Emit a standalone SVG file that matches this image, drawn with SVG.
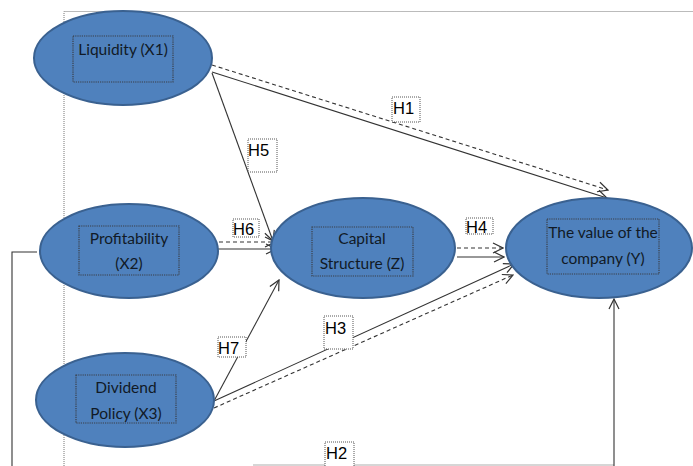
<svg xmlns="http://www.w3.org/2000/svg" width="693" height="466" viewBox="0 0 693 466">
<defs>
<style>
.node ellipse{fill:#4F81BD;stroke:#3A6190;stroke-width:2}
.tbox{fill:none;stroke:#3a3f48;stroke-width:1.2;stroke-dasharray:1.2,1}
.nt{font-family:Lato,"Liberation Sans",sans-serif;font-size:15.5px;fill:#111a26;text-anchor:middle}
.lb rect{fill:#fff;stroke:#555;stroke-width:1;stroke-dasharray:1,1}
.lb text{font-family:"Liberation Sans",Arial,sans-serif;font-size:16.5px;fill:#000}
.s{stroke:#333;stroke-width:1.1;fill:none}
.d{stroke:#333;stroke-width:1.1;fill:none;stroke-dasharray:4,3}
.frame{stroke:#777;stroke-width:1;fill:none;stroke-dasharray:1,1}
</style>
<marker id="arr" markerWidth="12" markerHeight="12" refX="11" refY="6" orient="auto" markerUnits="userSpaceOnUse">
<path d="M1,1 L11,6 L1,11" fill="none" stroke="#333" stroke-width="1.2"/>
</marker>
</defs>
<rect width="693" height="466" fill="#fff"/>
<path class="frame" d="M64,466 V11.5 H693"/>

<g id="connectors">
<!-- H1 -->
<line class="d" x1="212" y1="65" x2="608" y2="190" marker-end="url(#arr)"/>
<line class="s" x1="212" y1="72" x2="607" y2="198" marker-end="url(#arr)"/>
<!-- H5 -->
<line class="s" x1="212" y1="73" x2="273" y2="241" marker-end="url(#arr)"/>
<!-- H6 -->
<line class="d" x1="212" y1="242" x2="275" y2="242" marker-end="url(#arr)"/>
<line class="s" x1="213" y1="249" x2="276" y2="249" marker-end="url(#arr)"/>
<!-- H7 -->
<line class="s" x1="214" y1="401" x2="279" y2="280" marker-end="url(#arr)"/>
<!-- H3 -->
<line class="s" x1="214" y1="401" x2="514" y2="264" marker-end="url(#arr)"/>
<line class="d" x1="214" y1="408" x2="513" y2="275" marker-end="url(#arr)"/>
<!-- H4 -->
<line class="d" x1="457" y1="248" x2="503" y2="248" marker-end="url(#arr)"/>
<line class="s" x1="457" y1="257" x2="504" y2="257" marker-end="url(#arr)"/>
<!-- H2 -->
<path class="s" d="M37,252 H12 V466"/>
<line x1="253" y1="465" x2="614" y2="465" stroke="#c8c8c8" stroke-width="1.5"/>
<line class="s" x1="614" y1="466" x2="614" y2="299" marker-end="url(#arr)"/>
</g>

<g id="liquidity" class="node">
<ellipse cx="123" cy="58" rx="89" ry="47"/>
<rect class="tbox" x="73" y="36" width="100" height="46"/>
<text class="nt" x="123" y="55">Liquidity (X1)</text>
</g>
<g id="profitability" class="node">
<ellipse cx="129" cy="251" rx="89" ry="47"/>
<rect class="tbox" x="79" y="226" width="100" height="49"/>
<text class="nt" x="129" y="244">Profitability</text>
<text class="nt" x="129" y="269">(X2)</text>
</g>
<g id="dividend" class="node">
<ellipse cx="125" cy="400" rx="89" ry="47"/>
<rect class="tbox" x="76" y="375" width="100" height="48"/>
<text class="nt" x="126" y="393">Dividend</text>
<text class="nt" x="126" y="419">Policy (X3)</text>
</g>
<g id="capital" class="node">
<ellipse cx="363" cy="248" rx="92" ry="50"/>
<rect class="tbox" x="312" y="227" width="101" height="49"/>
<text class="nt" x="362" y="244">Capital</text>
<text class="nt" x="362" y="269">Structure (Z)</text>
</g>
<g id="value" class="node">
<ellipse cx="599" cy="248" rx="93" ry="50"/>
<rect class="tbox" x="547" y="219" width="112" height="55"/>
<text class="nt" x="603" y="238">The value of the</text>
<text class="nt" x="603" y="264">company (Y)</text>
</g>

<g id="labels">
<g class="lb" id="lH1"><rect x="392" y="97" width="28" height="25"/><text x="393" y="114">H1</text></g>
<g class="lb" id="lH5"><rect x="248" y="139" width="29" height="33"/><text x="248" y="156">H5</text></g>
<g class="lb" id="lH6"><rect x="233" y="219" width="26" height="18"/><text x="233" y="235">H6</text></g>
<g class="lb" id="lH4"><rect x="466" y="218" width="27" height="16"/><text x="466" y="233">H4</text></g>
<g class="lb" id="lH7"><rect x="218" y="337" width="28" height="20"/><text x="218" y="354">H7</text></g>
<g class="lb" id="lH3"><rect x="324" y="316" width="29" height="33"/><text x="325" y="334">H3</text></g>
<g class="lb" id="lH2"><rect x="325" y="442" width="29" height="26"/><text x="326" y="459">H2</text></g>
</g>
</svg>
